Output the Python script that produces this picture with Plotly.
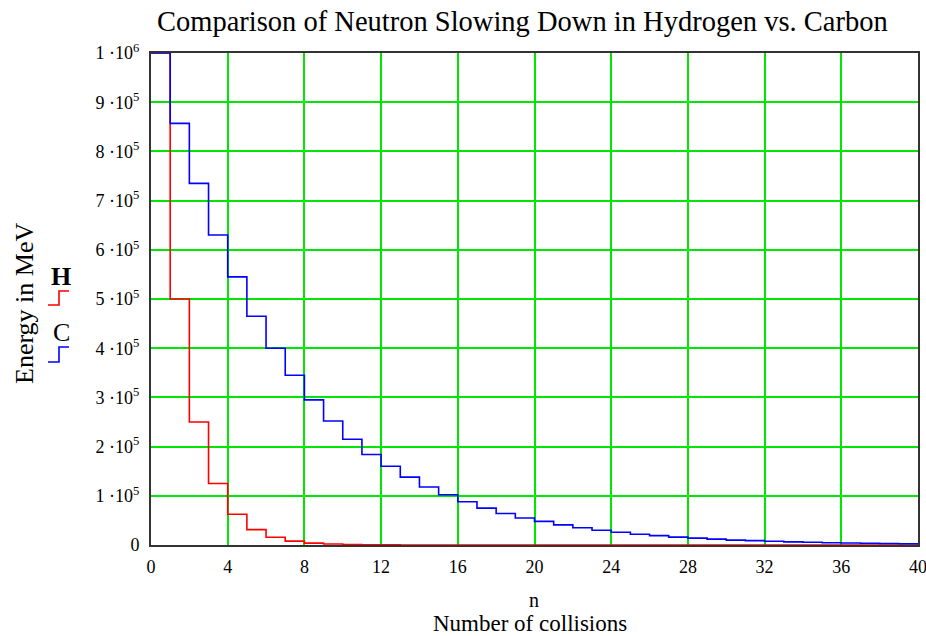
import plotly.graph_objects as go

n = list(range(0, 41))
hydrogen = [1.0e6, 5.0e5, 2.5e5, 1.25e5, 6.25e4, 3.12e4, 1.56e4, 7.8e3, 3.9e3, 1.95e3,
            980, 490, 240, 120, 60, 30, 15, 8, 4, 2,
            1, 0.5, 0.25, 0.12, 0.06, 0.03, 0.015, 0.008, 0.004, 0.002,
            0.001, 0.0005, 0.0002, 0.0001, 0.0001, 0, 0, 0, 0, 0, 0]
carbon = [1.0e6, 8.57e5, 7.35e5, 6.3e5, 5.45e5, 4.65e5, 4.0e5, 3.45e5, 2.95e5, 2.52e5,
          2.15e5, 1.84e5, 1.6e5, 1.38e5, 1.18e5, 1.02e5, 8.8e4, 7.5e4, 6.4e4, 5.5e4,
          4.8e4, 4.1e4, 3.5e4, 3.0e4, 2.6e4, 2.2e4, 1.9e4, 1.6e4, 1.4e4, 1.2e4,
          1.0e4, 8.8e3, 7.5e3, 6.4e3, 5.5e3, 4.7e3, 4.0e3, 3.5e3, 3.0e3, 2.5e3, 2.2e3]

y_tickvals = [0, 1e5, 2e5, 3e5, 4e5, 5e5, 6e5, 7e5, 8e5, 9e5, 1e6]
y_ticktext = ["0"] + [f"{k} \u00b710<sup>5</sup>" for k in range(1, 10)] + ["1 \u00b710<sup>6</sup>"]
x_tickvals = list(range(0, 41, 4))

SERIF = "Liberation Serif, Times New Roman, serif"

fig = go.Figure()
fig.add_trace(go.Scatter(x=n, y=hydrogen, mode="lines", line=dict(color="#ff0000", width=1.6, shape="hv"),
                         name="H", showlegend=False))
fig.add_trace(go.Scatter(x=n, y=carbon, mode="lines", line=dict(color="#0000ff", width=1.6, shape="hv"),
                         name="C", showlegend=False))

L, R, T, B = 151, 918, 53, 545
W, H = 926, 636
def px(xp):
    return (xp - L) / (R - L)
def py(yp):
    return (B - yp) / (B - T)

def ann(text, x, y, size, angle=0):
    return dict(text=text, x=px(x), y=py(y), xref="paper", yref="paper", showarrow=False,
                xanchor="center", yanchor="middle", textangle=angle,
                font=dict(family=SERIF, size=size, color="black"))

annotations = [
    ann("Comparison of Neutron Slowing Down in Hydrogen vs. Carbon", 522, 21, 28.5),
    ann("Energy in MeV", 24, 304, 26, -90),
    ann("<b>H</b>", 61, 276, 26),
    ann("C", 61, 332, 26),
    ann("n", 534, 600, 20),
    ann("Number of collisions", 530, 623, 23),
]

def step_icon(y_bot, y_top, color):
    return dict(type="path", xref="paper", yref="paper",
                path=f"M {px(48)} {py(y_bot)} L {px(59)} {py(y_bot)} L {px(59)} {py(y_top)} L {px(69)} {py(y_top)}",
                line=dict(color=color, width=1.6))

shapes = [step_icon(305, 291, "#ff0000"), step_icon(362, 347, "#0000ff")]

fig.update_layout(
    width=W, height=H, autosize=False,
    margin=dict(l=L, r=W - R, t=T, b=H - B, autoexpand=False),
    paper_bgcolor="white", plot_bgcolor="white",
    annotations=annotations, shapes=shapes,
    xaxis=dict(range=[0, 40], tickvals=x_tickvals, showgrid=True, gridcolor="#00e600", gridwidth=1.5,
               zeroline=False, showline=True, linecolor="#333333", linewidth=2, mirror=True,
               automargin=False, ticks="", ticklabelstandoff=4, ticklabeloverflow="allow",
               tickfont=dict(family=SERIF, size=18, color="black")),
    yaxis=dict(range=[0, 1e6], tickvals=y_tickvals, ticktext=y_ticktext, showgrid=True,
               gridcolor="#00e600", gridwidth=1.5, zeroline=False, showline=True, linecolor="#333333",
               linewidth=2, mirror=True, automargin=False, ticks="", ticklabelstandoff=6,
               ticklabeloverflow="allow",
               tickfont=dict(family=SERIF, size=18, color="black")),
)

fig.write_html("out.html")
